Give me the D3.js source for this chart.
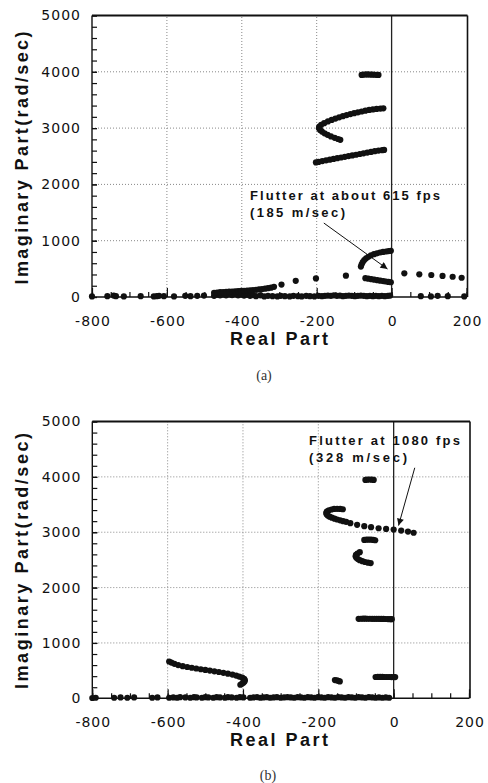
<!DOCTYPE html>
<html><head><meta charset="utf-8">
<script src="https://cdn.jsdelivr.net/npm/d3@7"></script>
<style>body{margin:0;background:#fff}svg{display:block}</style>
</head><body><svg id="c" width="488" height="783"></svg>
<script>
// ---------- shared axes ----------
const xTickValues = [-800, -600, -400, -200, 0, 200];
const yTickValues = [0, 1000, 2000, 3000, 4000, 5000];
const xLabel = "Real Part";
const yLabel = "Imaginary Part(rad/sec)";

// ---------- panel (a) : [real, imaginary] ----------
const aMode4000 = [[-80,3945],[-75,3950],[-70,3952],[-65,3953],[-60,3952],[-55,3950],[-50,3950],[-45,3948],[-40,3947],[-35,3945]];
const aMode3300 = [[-22,3352],[-30,3347],[-40,3340],[-50,3332],[-60,3322],[-70,3310],[-80,3295],[-90,3280],[-100,3265],[-110,3250],[-120,3232],[-130,3212],[-140,3192],[-150,3170],[-160,3146],[-170,3118],[-180,3088],[-188,3058],[-193,3028],[-194,2998],[-191,2968],[-186,2938],[-179,2908],[-171,2880],[-162,2853],[-152,2828],[-143,2806],[-137,2792]];
const aMode2500 = [[-202,2390],[-195,2400],[-185,2415],[-175,2428],[-165,2440],[-155,2452],[-145,2465],[-135,2478],[-125,2490],[-115,2503],[-105,2515],[-95,2527],[-85,2540],[-75,2552],[-65,2565],[-55,2577],[-45,2590],[-35,2600],[-25,2608],[-20,2612]];
const aArcUpper = [[-82,540],[-80,580],[-77,620],[-73,655],[-68,688],[-62,715],[-55,740],[-47,760],[-39,775],[-31,790],[-23,800],[-15,808],[-8,815],[-2,820]];
const aArcLower = [[-70,335],[-62,325],[-54,316],[-46,307],[-38,298],[-30,290],[-22,282],[-15,275],[-8,268],[-2,262]];
const aRising = [[-474,75],[-466,80],[-458,85],[-450,88],[-442,90],[-434,95],[-426,98],[-418,102],[-410,105],[-402,108],[-394,110],[-386,114],[-378,118],[-370,122],[-362,128],[-354,134],[-346,140],[-338,148],[-330,156],[-322,166],[-314,180],[-294,220],[-256,288],[-202,330],[-122,378]];
const aUnstable = [[34,421],[74,403],[106,391],[136,374],[163,360],[187,342]];
const aRealAxis = [[-800,10],[-759,15],[-742,25],[-736,15],[-715,10],[-670,15],[-635,10],[-627,15],[-621,20],[-608,15],[-581,10],[-551,20],[-537,15],[-519,20],[-501,25],[-474,20],[-466,40],[-458,30],[-450,45],[-442,30],[-434,50],[-426,35],[-418,55],[-410,30],[-402,45],[-394,25],[-386,40],[-378,20],[-370,35],[-362,15],[-350,30],[-340,10],[-330,20],[-318,15],[-305,10],[-296,20],[-285,15],[-272,10],[-262,20],[-250,15],[-240,10],[-228,20],[-218,15],[-206,10],[-195,20],[-186,15],[-178,20],[-170,25],[-162,20],[-154,30],[-146,20],[-138,25],[-130,15],[-122,20],[-114,25],[-106,20],[-98,15],[-90,20],[-82,25],[-74,20],[-66,15],[-58,20],[-50,15],[-42,20],[-34,15],[-26,20],[-18,15],[-10,20],[-4,25],[78,15],[105,10],[123,20],[150,15],[194,10]];
const aNote = ["Flutter at about 615 fps", "(185  m/sec)"];
const aArrow = [[-181,1314],[-11,497]];

// ---------- panel (b) ----------
const bMode4000 = [[-75,3945],[-70,3950],[-64,3952],[-58,3950],[-53,3945]];
const bHook3300 = [[-135,3415],[-142,3420],[-150,3422],[-158,3420],[-165,3410],[-172,3395],[-177,3375],[-179,3350],[-178,3325],[-175,3300],[-170,3280],[-164,3262],[-157,3245],[-150,3230],[-142,3215],[-134,3200],[-126,3187]];
const bFlutter = [[-115,3164],[-97,3133],[-78,3109],[-60,3091],[-40,3072],[-20,3060],[0,3048],[20,3030],[38,3011],[53,2990]];
const bMode2870 = [[-78,2860],[-72,2866],[-66,2867],[-60,2865],[-54,2860],[-49,2855]];
const bHook2500 = [[-90,2640],[-96,2615],[-100,2590],[-101,2565],[-99,2540],[-95,2515],[-90,2495],[-83,2477],[-76,2462],[-68,2450],[-61,2442]];
const bMode1450 = [[-93,1435],[-87,1437],[-81,1438],[-75,1438],[-69,1437],[-63,1437],[-57,1436],[-51,1435],[-45,1435],[-39,1435],[-33,1434],[-27,1433],[-21,1432],[-15,1431],[-9,1430],[-5,1430]];
const bMode400 = [[-48,385],[-42,386],[-36,386],[-30,386],[-24,385],[-18,385],[-12,385],[-6,384],[0,384],[4,383]];
const bBlob300 = [[-156,330],[-151,325],[-147,315],[-143,305]];
const bHook600 = [[-596,665],[-590,645],[-582,622],[-572,600],[-560,580],[-548,565],[-536,552],[-524,538],[-512,525],[-500,512],[-488,500],[-476,488],[-464,475],[-452,460],[-440,445],[-428,428],[-418,410],[-410,392],[-402,372],[-397,350],[-395,328],[-396,305],[-399,283],[-403,262],[-407,245]];
const bRealAxis = [[-800,5],[-791,10],[-742,10],[-725,15],[-707,10],[-689,15],[-641,10],[-627,15],[-596,10],[-585,15],[-575,10],[-567,20],[-553,15],[-540,10],[-530,20],[-523,15],[-509,10],[-500,20],[-492,15],[-479,10],[-470,20],[-461,15],[-448,10],[-440,20],[-430,15],[-417,10],[-408,20],[-399,15],[-381,10],[-372,15],[-363,20],[-354,10],[-346,15],[-337,20],[-328,10],[-319,15],[-310,20],[-300,10],[-291,15],[-282,20],[-273,15],[-264,10],[-255,20],[-246,15],[-237,10],[-228,20],[-219,15],[-210,10],[-201,20],[-192,15],[-183,10],[-174,20],[-165,15],[-156,10],[-147,20],[-138,15],[-129,10],[-120,20],[-111,15],[-102,10],[-93,20],[-84,15],[-75,10],[-66,20],[-57,15],[-48,10],[-39,15],[-30,10],[-21,15],[-12,10]];
const bNote = ["Flutter at 1080 fps", "(328  m/sec)"];
const bArrow = [[56,4164],[13,3120]];

// ---------- drawing ----------
const svg = d3.select("#c");
svg.append("defs").append("marker")
  .attr("id","ah").attr("viewBox","0 0 10 10").attr("refX",10).attr("refY",5)
  .attr("markerWidth",9).attr("markerHeight",7).attr("markerUnits","userSpaceOnUse")
  .attr("orient","auto")
  .append("path").attr("d","M0,0L10,5L0,10Z").attr("fill","#111");

const SANS = "'DejaVu Sans', 'Liberation Sans', sans-serif";
const BOLD = "'Liberation Sans', Arial, sans-serif";

function panel(cfg){
  const x = d3.scaleLinear().domain([-800,200]).range(cfg.xr);
  const y = d3.scaleLinear().domain([0,5000]).range(cfg.yr);
  const g = svg.append("g");
  const [x0,x1] = cfg.xr, [y0,y1] = cfg.yr;

  // dotted grid
  g.append("g").selectAll("line").data(yTickValues.filter(v=>v>0&&v<5000)).join("line")
    .attr("x1",x0).attr("x2",x1).attr("y1",d=>y(d)).attr("y2",d=>y(d))
    .attr("stroke","#888").attr("stroke-width",1).attr("stroke-dasharray","1,2");
  g.append("g").selectAll("line").data(xTickValues.filter(v=>v>-800&&v<0)).join("line")
    .attr("y1",y0).attr("y2",y1).attr("x1",d=>x(d)).attr("x2",d=>x(d))
    .attr("stroke","#888").attr("stroke-width",1).attr("stroke-dasharray","1,2");
  // zero real line
  g.append("line").attr("x1",x(0)).attr("x2",x(0)).attr("y1",y0).attr("y2",y1)
    .attr("stroke","#222").attr("stroke-width",1.3);

  // axes
  const minorX = d3.range(-800,201,50), minorY = d3.range(0,5001,200);
  const fmt = d => String(d);
  const ax = g.append("g").attr("transform",`translate(0,${y0})`);
  ax.call(d3.axisBottom(x).tickValues(minorX).tickSize(-5).tickFormat(""));
  const axM = g.append("g").attr("transform",`translate(0,${y0})`);
  axM.call(d3.axisBottom(x).tickValues(xTickValues).tickSize(-9).tickPadding(19).tickFormat(fmt));
  const ay = g.append("g").attr("transform",`translate(${x0},0)`);
  ay.call(d3.axisLeft(y).tickValues(minorY).tickSize(-5).tickFormat(""));
  const ayM = g.append("g").attr("transform",`translate(${x0},0)`);
  ayM.call(d3.axisLeft(y).tickValues(yTickValues).tickSize(-5).tickPadding(12).tickFormat(fmt));
  [ax,axM,ay,ayM].forEach(a=>{
    a.select(".domain").remove();
    a.selectAll(".tick line").attr("stroke","#111").attr("stroke-width",1.2);
    a.selectAll("text").attr("fill","#111").style("font-family",SANS).style("font-size","14px").style("letter-spacing","1px");
  });
  axM.selectAll("text").attr("dx","0.5px");
  ayM.selectAll("text").attr("dx","1px");

  // frame
  g.append("line").attr("x1",x0).attr("x2",x1).attr("y1",y0).attr("y2",y0).attr("stroke","#111").attr("stroke-width",1.6);
  g.append("line").attr("x1",x0).attr("x2",x0).attr("y1",y0).attr("y2",y1).attr("stroke","#111").attr("stroke-width",1.4);
  g.append("line").attr("x1",x0).attr("x2",x1+1).attr("y1",y1).attr("y2",y1).attr("stroke","#111").attr("stroke-width",2.2);
  g.append("line").attr("x1",x1+1).attr("x2",x1+1).attr("y1",y0).attr("y2",y1).attr("stroke","#111").attr("stroke-width",1.6);

  // points
  cfg.series.forEach(s=>{
    g.append("g").selectAll("circle").data(s).join("circle")
      .attr("cx",d=>x(d[0])).attr("cy",d=>y(d[1])).attr("r",3.1).attr("fill","#111");
  });

  // annotation
  const n = cfg.note;
  g.append("text").attr("x",n.x).attr("y",n.y1).text(n.lines[0])
    .attr("textLength",n.w1).attr("lengthAdjust","spacing")
    .style("font-family",BOLD).style("font-weight","bold").style("font-size","13px").attr("fill","#111");
  g.append("text").attr("x",n.x).attr("y",n.y2).text(n.lines[1])
    .attr("textLength",n.w2).attr("lengthAdjust","spacing")
    .style("font-family",BOLD).style("font-weight","bold").style("font-size","13px").attr("fill","#111");
  g.append("line").attr("x1",x(n.arrow[0][0])).attr("y1",y(n.arrow[0][1]))
    .attr("x2",x(n.arrow[1][0])).attr("y2",y(n.arrow[1][1]))
    .attr("stroke","#111").attr("stroke-width",1).attr("marker-end","url(#ah)");

  // titles
  g.append("text").attr("x",279).attr("y",y0+48).attr("text-anchor","middle").text(xLabel)
    .attr("textLength",98).attr("lengthAdjust","spacing")
    .style("font-family",BOLD).style("font-weight","bold").style("font-size","18px").attr("fill","#111");
  g.append("text").attr("transform",`translate(28,${cfg.ymid}) rotate(-90)`).attr("text-anchor","middle").text(yLabel)
    .attr("textLength",cfg.ylen).attr("lengthAdjust","spacing")
    .style("font-family",BOLD).style("font-weight","bold").style("font-size","18px").attr("fill","#111");
  g.append("text").attr("x",cfg.capX).attr("y",cfg.capY).attr("text-anchor","middle").text(cfg.caption)
    .style("font-family","'Liberation Serif','DejaVu Serif',serif").style("font-size","14px").attr("fill","#333");
}

panel({xr:[92,466.5], yr:[297,15.5],
  series:[aRealAxis,aRising,aUnstable,aArcLower,aArcUpper,aMode2500,aMode3300,aMode4000],
  note:{lines:aNote, x:250, y1:200, y2:217, w1:190, w2:95, arrow:aArrow},
  ymid:158, ylen:253, caption:"(a)", capX:264, capY:380});
panel({xr:[92.3,469], yr:[698.3,421.5],
  series:[bRealAxis,bHook600,bBlob300,bMode400,bMode1450,bHook2500,bMode2870,bHook3300,bFlutter,bMode4000],
  note:{lines:bNote, x:309, y1:445, y2:462, w1:151, w2:98, arrow:bArrow},
  ymid:561, ylen:256, caption:"(b)", capX:268, capY:780});
</script></body></html>
